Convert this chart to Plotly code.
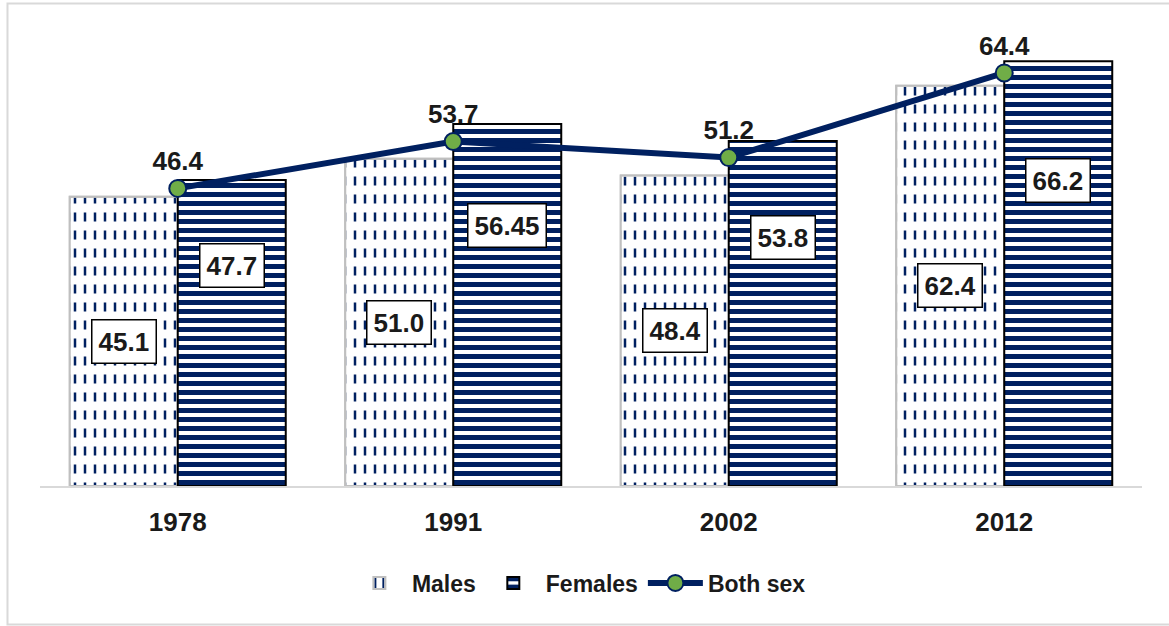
import plotly.graph_objects as go

years = ["1978", "1991", "2002", "2012"]
males = [45.1, 51.0, 48.4, 62.4]
females = [47.7, 56.45, 53.8, 66.2]
both_sex = [46.4, 53.7, 51.2, 64.4]
male_labels = ["45.1", "51.0", "48.4", "62.4"]
female_labels = ["47.7", "56.45", "53.8", "66.2"]
both_labels = ["46.4", "53.7", "51.2", "64.4"]

NAVY = "#002060"
GREEN = "#70AD47"
GREY = "#BFBFBF"
TXT = "#1a1a1a"
FONT = "Liberation Sans"
FS = 26
BW = 0.392  # bar width in category units

fig = go.Figure()

# Males: white bars with navy vertical lines
fig.add_trace(go.Bar(
    x=years, y=males, name="Males", width=BW, offset=-BW,
    marker=dict(color="white", line=dict(color=GREY, width=2),
                pattern=dict(shape="|", fgcolor=NAVY, bgcolor="white", size=10,
                             solidity=0.25, fgopacity=1, fillmode="replace")),
    legendrank=1,
))
# overlay to cut the vertical lines into dashes
fig.add_trace(go.Bar(
    x=years, y=males, width=BW, offset=-BW, showlegend=False, hoverinfo="skip",
    marker=dict(color="rgba(0,0,0,0)", line=dict(color=GREY, width=2),
                pattern=dict(shape="-", fgcolor="white", bgcolor="rgba(0,0,0,0)", size=18,
                             solidity=0.5, fgopacity=1, fillmode="replace")),
))
# Females: horizontal navy stripes
fig.add_trace(go.Bar(
    x=years, y=females, name="Females", width=BW, offset=0,
    marker=dict(color="white", line=dict(color="#000000", width=2),
                pattern=dict(shape="-", fgcolor=NAVY, bgcolor="white", size=9,
                             solidity=0.55, fgopacity=1, fillmode="replace")),
    legendrank=2,
))
# Both sex line
fig.add_trace(go.Scatter(
    x=years, y=both_sex, name="Both sex", mode="lines+markers+text",
    line=dict(color=NAVY, width=6),
    marker=dict(color=GREEN, size=17, line=dict(color=NAVY, width=2)),
    text=both_labels, textposition="top center",
    textfont=dict(family=FONT, size=FS, color=TXT, weight="bold"),
    cliponaxis=False, legendrank=3,
))

annotations = []
for i in range(len(years)):
    annotations.append(dict(
        x=i - BW / 2, y=males[i] * 0.5, xref="x", yref="y", text=male_labels[i],
        showarrow=False, bgcolor="white", bordercolor="#000000", borderwidth=1.5, borderpad=6,
        font=dict(family=FONT, size=FS, color=TXT, weight="bold")))
    annotations.append(dict(
        x=i + BW / 2, y=females[i] * 0.72, xref="x", yref="y", text=female_labels[i],
        showarrow=False, bgcolor="white", bordercolor="#000000", borderwidth=1.5, borderpad=6,
        font=dict(family=FONT, size=FS, color=TXT, weight="bold")))

fig.update_layout(
    width=1169, height=626,
    margin=dict(l=40, r=27, t=37, b=140),
    paper_bgcolor="white", plot_bgcolor="white",
    barmode="overlay",
    showlegend=True,
    legend=dict(orientation="h", x=0.489, xanchor="center", y=-0.216, yanchor="middle",
                font=dict(family=FONT, size=23, color=TXT, weight="bold"),
                itemwidth=55, tracegroupgap=0),
    annotations=annotations,
    shapes=[dict(type="rect", xref="paper", yref="paper",
                 x0=-0.0295, x1=1.05, y0=-0.3085, y1=1.0746,
                 line=dict(color="#D9D9D9", width=2), fillcolor="rgba(0,0,0,0)", layer="below")],
)
fig.update_xaxes(type="category", range=[-0.5, 3.5], showgrid=False, showline=True,
                 linecolor="#D9D9D9", linewidth=1.5, ticks="",
                 tickfont=dict(family=FONT, size=FS, color=TXT, weight="bold"),
                 ticklabelstandoff=12)
fig.update_yaxes(range=[0, 70], visible=False, showgrid=False)

fig.write_html("out.html", config={"displayModeBar": False},
               post_script="document.body.style.margin='0px';")
